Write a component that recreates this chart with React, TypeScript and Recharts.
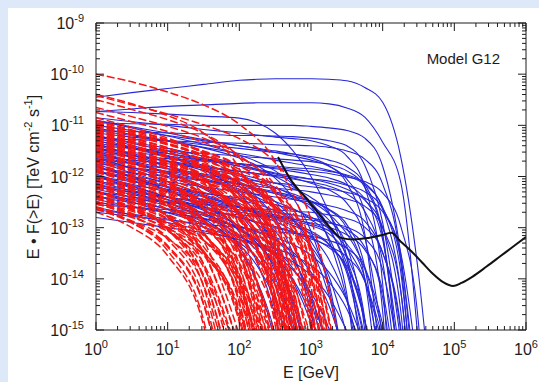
import { Line, LineChart, XAxis, YAxis } from 'recharts'

// every number below is a log10: E in GeV, E*F(>E) in TeV cm^-2 s^-1

// red dashed curves, sampled on RED_E
const RED_E = [0, 0.5, 1, 1.5, 2, 2.5, 3, 3.5]

const redUpper = [
  [-10.0, -10.15, -10.35, -10.6, -10.98, -11.7, -13.4, -17.5],
  [-10.39, -10.58, -10.81, -11.15, -11.85, -13.68, -19.18],
  [-10.42, -10.6, -10.78, -10.99, -11.26, -11.73, -12.84, -16.02],
  [-10.5, -10.69, -10.89, -11.16, -11.63, -12.75, -15.9],
  [-10.65, -10.83, -11.02, -11.25, -11.59, -12.3, -14.15, -19.55],
  [-10.75, -10.93, -11.12, -11.33, -11.62, -12.17, -13.53, -17.45],
  [-10.85, -11.04, -11.25, -11.55, -12.1, -13.45, -17.35],
]

const redDense = [
  [-10.9, -11.09, -11.28, -11.53, -11.94, -12.87, -15.4],
  [-10.95, -11.13, -11.31, -11.52, -11.79, -12.26, -13.37, -16.55],
  [-11.0, -11.18, -11.37, -11.6, -11.94, -12.65, -14.5, -19.9],
  [-11.05, -11.24, -11.44, -11.71, -12.18, -13.3, -16.45],
  [-11.1, -11.28, -11.47, -11.68, -11.97, -12.52, -13.88, -17.8],
  [-11.15, -11.34, -11.53, -11.78, -12.19, -13.12, -15.65],
  [-11.2, -11.39, -11.6, -11.9, -12.45, -13.8, -17.7],
  [-11.25, -11.43, -11.62, -11.85, -12.19, -12.9, -14.75, -20.15],
  [-11.3, -11.49, -11.69, -11.96, -12.43, -13.55, -16.7],
  [-11.36, -11.55, -11.78, -12.12, -12.82, -14.65, -20.15],
  [-11.4, -11.59, -11.78, -12.03, -12.44, -13.37, -15.9],
  [-11.45, -11.64, -11.85, -12.15, -12.7, -14.05, -17.95],
  [-11.51, -11.71, -11.96, -12.37, -13.29, -15.8],
  [-11.55, -11.74, -11.94, -12.21, -12.68, -13.8, -16.95],
  [-11.61, -11.8, -12.03, -12.37, -13.07, -14.9, -20.4],
  [-11.66, -11.87, -12.14, -12.61, -13.72, -16.85],
  [-11.7, -11.89, -12.1, -12.4, -12.95, -14.3, -18.2],
  [-11.76, -11.96, -12.21, -12.62, -13.54, -16.05],
  [-11.82, -12.03, -12.32, -12.87, -14.23, -18.1],
  [-11.86, -12.05, -12.28, -12.62, -13.32, -15.15],
  [-11.91, -12.12, -12.39, -12.86, -13.97, -17.1],
  [-11.97, -12.2, -12.54, -13.25, -15.09],
  [-12.01, -12.21, -12.46, -12.87, -13.79, -16.3],
  [-12.07, -12.28, -12.57, -13.12, -14.48, -18.35],
  [-12.13, -12.38, -12.79, -13.72, -16.24],
  [-12.16, -12.37, -12.64, -13.11, -14.22, -17.35],
  [-12.22, -12.45, -12.79, -13.5, -15.34],
  [-12.29, -12.56, -13.03, -14.15, -17.29],
  [-12.32, -12.53, -12.82, -13.37, -14.73, -18.6],
  [-12.38, -12.63, -13.04, -13.97, -16.49],
  [-12.42, -12.65, -12.99, -13.7, -15.54],
  [-12.49, -12.76, -13.23, -14.35, -17.49],
  [-12.53, -12.78, -13.19, -14.12, -16.64],
  [-12.6, -12.9, -13.45, -14.8, -18.75],
  [-12.64, -12.91, -13.38, -14.5, -17.64],
  [-12.7, -13.0, -13.55, -14.9, -18.85],
]

const redFill = [
  [-10.92, -11.1, -11.29, -11.5, -11.79, -12.34, -13.7, -17.62],
  [-10.97, -11.16, -11.36, -11.63, -12.1, -13.22, -16.37],
  [-11.02, -11.2, -11.38, -11.59, -11.86, -12.33, -13.44, -16.62],
  [-11.07, -11.25, -11.44, -11.67, -12.01, -12.72, -14.57, -19.97],
  [-11.12, -11.31, -11.52, -11.82, -12.37, -13.72, -17.62],
  [-11.17, -11.35, -11.54, -11.75, -12.04, -12.59, -13.95, -17.87],
  [-11.22, -11.41, -11.6, -11.85, -12.26, -13.19, -15.72],
  [-11.27, -11.45, -11.63, -11.84, -12.11, -12.58, -13.69, -16.87],
  [-11.33, -11.52, -11.75, -12.09, -12.79, -14.62, -20.12],
  [-11.37, -11.55, -11.74, -11.97, -12.31, -13.02, -14.87, -20.27],
  [-11.42, -11.61, -11.81, -12.08, -12.55, -13.67, -16.82],
  [-11.47, -11.65, -11.84, -12.05, -12.34, -12.89, -14.25, -18.17],
  [-11.52, -11.71, -11.92, -12.22, -12.77, -14.12, -18.02],
  [-11.57, -11.76, -11.95, -12.2, -12.61, -13.54, -16.07],
  [-11.62, -11.8, -11.99, -12.22, -12.56, -13.27, -15.12],
  [-11.68, -11.88, -12.13, -12.54, -13.46, -15.97],
  [-11.72, -11.91, -12.11, -12.38, -12.85, -13.97, -17.12],
  [-11.78, -11.97, -12.2, -12.54, -13.24, -15.07],
  [-11.82, -12.01, -12.2, -12.45, -12.86, -13.79, -16.32],
  [-11.88, -12.09, -12.36, -12.83, -13.94, -17.07],
  [-11.92, -12.11, -12.32, -12.62, -13.17, -14.52, -18.42],
  [-11.98, -12.17, -12.4, -12.74, -13.44, -15.27],
  [-12.04, -12.25, -12.54, -13.09, -14.45, -18.32],
  [-12.07, -12.26, -12.46, -12.73, -13.2, -14.32, -17.47],
  [-12.13, -12.33, -12.58, -12.99, -13.91, -16.42],
  [-12.19, -12.42, -12.76, -13.47, -15.31],
  [-12.23, -12.42, -12.65, -12.99, -13.69, -15.52],
  [-12.28, -12.49, -12.76, -13.23, -14.34, -17.47],
  [-12.35, -12.6, -13.01, -13.94, -16.46],
  [-12.38, -12.58, -12.83, -13.24, -14.16, -16.67],
  [-12.44, -12.65, -12.94, -13.49, -14.85, -18.72],
  [-12.49, -12.72, -13.06, -13.77, -15.61],
  [-12.53, -12.74, -13.01, -13.48, -14.59, -17.72],
  [-12.61, -12.88, -13.35, -14.47, -17.61],
  [-12.64, -12.87, -13.21, -13.92, -15.76],
]

const redExtra = [
  [-11.19, -11.39, -11.64, -12.05, -12.97, -15.48],
  [-11.29, -11.48, -11.71, -12.05, -12.75, -14.58, -20.08],
  [-11.39, -11.6, -11.87, -12.34, -13.45, -16.58],
  [-11.48, -11.66, -11.85, -12.08, -12.42, -13.13, -14.98, -20.38],
  [-11.6, -11.81, -12.1, -12.65, -14.01, -17.88],
  [-11.68, -11.87, -12.06, -12.31, -12.72, -13.65, -16.18],
  [-11.78, -11.97, -12.18, -12.48, -13.03, -14.38, -18.28],
  [-11.88, -12.07, -12.27, -12.54, -13.01, -14.13, -17.28],
  [-11.99, -12.2, -12.47, -12.94, -14.05, -17.18],
  [-12.09, -12.28, -12.51, -12.85, -13.55, -15.38],
  [-12.18, -12.37, -12.58, -12.88, -13.43, -14.78, -18.68],
  [-12.29, -12.49, -12.74, -13.15, -14.07, -16.58],
  [-12.4, -12.61, -12.9, -13.45, -14.81, -18.68],
  [-12.49, -12.68, -12.91, -13.25, -13.95, -15.78],
  [-12.59, -12.8, -13.07, -13.54, -14.65, -17.78],
  [-11.09, -11.28, -11.51, -11.85, -12.55, -14.38, -19.88],
  [-10.98, -11.16, -11.35, -11.58, -11.92, -12.63, -14.48, -19.88],
  [-11.13, -11.32, -11.52, -11.79, -12.26, -13.38, -16.53],
  [-11.23, -11.41, -11.6, -11.81, -12.1, -12.65, -14.01, -17.93],
  [-11.33, -11.52, -11.71, -11.96, -12.37, -13.3, -15.83],
]

// blue solid curves, sampled on BLUE_E
const BLUE_E = [0, 0.5, 1, 1.5, 2, 2.25, 2.5, 2.75, 3, 3.25, 3.5, 3.75, 4, 4.25, 4.5, 4.75]

const blueHigh = [
  [-10.45, -10.36, -10.28, -10.2, -10.12, -10.1, -10.09, -10.09, -10.09, -10.1, -10.13, -10.26, -10.55, -11.6, -13.9, -17.5],
  [-10.73, -10.68, -10.63, -10.6, -10.57, -10.56, -10.56, -10.56, -10.56, -10.58, -10.66, -10.84, -11.33, -12.1, -15.3],
  [-10.73, -10.75, -10.78, -10.82, -10.86, -10.95, -11.15, -11.5, -12.0, -12.7, -13.6, -14.8, -16.5],
  [-10.95, -10.97, -10.98, -11.0, -11.0, -11.0, -11.0, -11.0, -11.02, -11.05, -11.1, -11.25, -11.8, -13.5, -17],
  [-11.1, -11.12, -11.15, -11.17, -11.2, -11.2, -11.21, -11.22, -11.25, -11.3, -11.4, -11.78, -12.9, -15.2],
  [-11.25, -11.28, -11.3, -11.33, -11.35, -11.36, -11.38, -11.39, -11.4, -11.43, -11.5, -11.66, -12.15, -13.65, -18],
  [-11.4, -11.45, -11.5, -11.55, -11.6, -11.63, -11.65, -11.68, -11.71, -11.77, -11.89, -12.21, -13.17, -16.2],
  [-10.85, -10.93, -11.0, -11.08, -11.15, -11.19, -11.23, -11.26, -11.3, -11.4, -11.6, -12.2, -14.1, -20],
  [-11.0, -11.1, -11.2, -11.3, -11.4, -11.45, -11.5, -11.56, -11.64, -11.79, -12.13, -13.12, -16.1],
  [-10.9, -11.03, -11.15, -11.28, -11.4, -11.46, -11.53, -11.6, -11.68, -11.8, -12.05, -12.7, -14.64, -20],
  [-11.15, -11.23, -11.3, -11.38, -11.45, -11.49, -11.53, -11.56, -11.61, -11.68, -11.81, -12.15, -13.12, -16.1],
  [-11.05, -11.18, -11.3, -11.43, -11.55, -11.61, -11.68, -11.74, -11.8, -11.88, -11.99, -12.16, -12.6, -13.84, -17.64],
  [-11.45, -11.53, -11.6, -11.68, -11.75, -11.79, -11.83, -11.86, -11.9, -11.94, -12.01, -12.1, -12.32, -12.96, -14.87, -20.82],
]

const blueMid = [
  [-11.3, -11.43, -11.55, -11.68, -11.8, -11.86, -11.93, -11.99, -12.05, -12.13, -12.25, -12.46, -13.0, -14.6, -19],
  [-11.5, -11.6, -11.7, -11.8, -11.9, -11.95, -12.0, -12.05, -12.11, -12.19, -12.34, -12.68, -13.67, -16.7],
  [-11.2, -11.35, -11.5, -11.65, -11.8, -11.88, -11.95, -12.03, -12.13, -12.26, -12.52, -13.19, -15.14],
  [-11.6, -11.68, -11.75, -11.83, -11.9, -11.94, -11.98, -12.01, -12.05, -12.09, -12.17, -12.3, -12.63, -13.61, -16.6],
  [-11.7, -11.83, -11.95, -12.08, -12.2, -12.26, -12.33, -12.4, -12.49, -12.65, -13.01, -14.0, -17],
  [-11.45, -11.63, -11.8, -11.98, -12.15, -12.24, -12.33, -12.44, -12.57, -12.85, -13.36, -15.0, -19],
  [-11.9, -12.0, -12.1, -12.2, -12.3, -12.35, -12.4, -12.45, -12.5, -12.57, -12.67, -12.87, -13.49, -14.93, -19.7],
  [-12.0, -12.15, -12.3, -12.45, -12.6, -12.68, -12.75, -12.83, -12.93, -13.06, -13.32, -13.99, -15.94],
  [-11.35, -11.58, -11.8, -12.03, -12.25, -12.36, -12.49, -12.63, -12.84, -13.2, -14.3, -17.4],
  [-12.2, -12.3, -12.4, -12.5, -12.6, -12.65, -12.7, -12.75, -12.81, -12.89, -13.04, -13.38, -14.37, -17.4],
  [-11.8, -12.0, -12.2, -12.4, -12.6, -12.7, -12.8, -12.92, -13.07, -13.32, -13.89, -15.5],
  [-12.4, -12.45, -12.5, -12.55, -12.6, -12.63, -12.65, -12.68, -12.7, -12.75, -12.82, -12.99, -13.49, -15.0, -19],
  [-12.1, -12.28, -12.45, -12.63, -12.8, -12.89, -12.98, -13.08, -13.19, -13.39, -13.76, -14.8, -17.8],
  [-11.55, -11.6, -11.65, -11.7, -11.75, -11.78, -11.8, -11.83, -11.85, -11.9, -11.97, -12.13, -12.64, -14.2, -18],
  [-11.75, -11.83, -11.9, -11.98, -12.05, -12.09, -12.13, -12.16, -12.2, -12.24, -12.31, -12.42, -12.69, -13.48, -15.9],
  [-12.1, -12.18, -12.25, -12.33, -12.42, -12.48, -12.55, -12.65, -12.79, -13.02, -13.4, -14.03, -15.14],
  [-11.65, -11.75, -11.85, -11.95, -12.07, -12.14, -12.23, -12.34, -12.49, -12.73, -13.12, -13.77, -14.89, -16.84],
  [-11.35, -11.45, -11.55, -11.65, -11.75, -11.8, -11.85, -11.9, -11.96, -12.03, -12.16, -12.44, -13.24, -15.64],
  [-11.55, -11.7, -11.85, -12.0, -12.15, -12.23, -12.3, -12.38, -12.48, -12.64, -12.94, -13.77, -16.19],
  [-11.85, -11.93, -12.0, -12.08, -12.15, -12.19, -12.23, -12.26, -12.3, -12.36, -12.44, -12.58, -13.0, -14.22, -17.99],
  [-12.3, -12.4, -12.5, -12.6, -12.7, -12.75, -12.8, -12.87, -12.96, -13.12, -13.55, -14.78, -18.56],
  [-11.25, -11.43, -11.6, -11.78, -11.95, -12.04, -12.13, -12.24, -12.41, -12.73, -13.57, -16.0],
  [-12.55, -12.6, -12.65, -12.7, -12.75, -12.78, -12.8, -12.83, -12.85, -12.91, -12.99, -13.2, -13.82, -15.72],
  [-12.0, -12.2, -12.4, -12.6, -12.8, -12.9, -13.0, -13.1, -13.22, -13.36, -13.57, -14.05, -15.33],
  [-12.15, -12.28, -12.4, -12.53, -12.65, -12.71, -12.78, -12.84, -12.91, -12.99, -13.14, -13.43, -14.24, -16.65],
  [-11.7, -11.93, -12.15, -12.38, -12.6, -12.71, -12.83, -12.96, -13.11, -13.33, -13.83, -15.12],
  [-12.7, -12.78, -12.85, -12.93, -13.0, -13.04, -13.08, -13.11, -13.17, -13.25, -13.4, -13.81, -15.03],
]

const blueLow = [
  [-11.6, -11.85, -12.1, -12.35, -12.6, -12.73, -12.88, -13.06, -13.37, -14.09, -16.1],
  [-11.1, -11.2, -11.31, -11.44, -11.64, -11.79, -12.03, -12.42, -13.07, -14.19, -16.14],
  [-11.3, -11.45, -11.62, -11.83, -12.14, -12.41, -12.82, -13.5, -14.64, -16.6],
  [-11.6, -11.75, -11.91, -12.07, -12.28, -12.41, -12.59, -12.86, -13.27, -13.95, -15.09],
  [-11.9, -12.08, -12.26, -12.47, -12.74, -12.93, -13.21, -13.63, -14.32, -15.48],
  [-12.2, -12.35, -12.52, -12.73, -13.04, -13.31, -13.72, -14.4, -15.54],
  [-11.5, -11.71, -11.94, -12.24, -12.73, -13.17, -13.87, -15.04, -17],
  [-12.5, -12.6, -12.71, -12.82, -12.98, -13.09, -13.24, -13.48, -13.87, -14.52, -15.64],
  [-11.2, -11.39, -11.59, -11.86, -12.33, -12.76, -13.45, -14.6, -16.59],
  [-12.0, -12.23, -12.46, -12.72, -13.04, -13.26, -13.56, -14.01, -14.72, -15.9],
  [-12.6, -12.75, -12.9, -13.06, -13.24, -13.35, -13.49, -13.67, -13.93, -14.35, -15.02],
  [-11.75, -12.0, -12.27, -12.58, -12.99, -13.31, -13.77, -14.5, -15.69],
  [-12.3, -12.5, -12.71, -12.92, -13.18, -13.34, -13.54, -13.83, -14.27, -14.97, -16.14],
  [-11.45, -11.58, -11.7, -11.84, -11.99, -12.09, -12.21, -12.38, -12.63, -13.03, -13.7, -14.83, -16.79],
  [-10.9, -11.05, -11.21, -11.37, -11.58, -11.71, -11.89, -12.16, -12.57, -13.25, -14.39, -16.37],
  [-11.81, -12.02, -12.28, -12.64, -13.37, -14.07, -15.24, -17.24],
  [-12.3, -12.46, -12.64, -12.89, -13.33, -13.75, -14.42, -15.57],
  [-11.4, -11.55, -11.71, -11.88, -12.11, -12.27, -12.49, -12.84, -13.39, -14.32, -15.89],
  [-12.0, -12.1, -12.2, -12.32, -12.46, -12.55, -12.67, -12.86, -13.15, -13.62, -14.43, -15.82],
  [-11.65, -11.83, -12.02, -12.23, -12.52, -12.75, -13.07, -13.58, -14.43, -15.86],
  [-12.45, -12.58, -12.7, -12.83, -12.98, -13.07, -13.19, -13.33, -13.54, -13.87, -14.42, -15.33],
  [-11.95, -12.18, -12.41, -12.66, -12.96, -13.15, -13.42, -13.8, -14.39, -15.35],
  [-11.2, -11.33, -11.45, -11.6, -11.76, -11.86, -12.0, -12.2, -12.5, -12.98, -13.81, -15.21],
  [-12.25, -12.4, -12.57, -12.76, -13.02, -13.24, -13.55, -14.05, -14.88, -16.3],
  [-12.8, -12.9, -13.0, -13.1, -13.23, -13.31, -13.41, -13.54, -13.74, -14.06, -14.59, -15.49],
  [-11.91, -12.05, -12.22, -12.49, -13.09, -13.68, -14.71, -16.46],
  [-12.4, -12.51, -12.63, -12.81, -13.14, -13.46, -13.99, -14.89, -16.44],
  [-11.55, -11.74, -11.93, -12.19, -12.59, -12.95, -13.52, -14.45, -16.04],
  [-12.16, -12.32, -12.52, -12.82, -13.44, -14.05, -15.08, -16.85],
  [-12.65, -12.74, -12.83, -12.99, -13.29, -13.6, -14.12, -15.0, -16.54],
]

// black sensitivity curve
const sensE = [2.54, 2.72, 2.95, 3.15, 3.3, 3.42, 3.6, 3.8, 3.98, 4.12, 4.25, 4.4, 4.55, 4.7, 4.85, 4.98, 5.1, 5.25, 5.45, 5.65, 5.85, 6.0]
const sensF = [-11.62, -12.07, -12.45, -12.8, -13.05, -13.2, -13.23, -13.2, -13.15, -13.1, -13.27, -13.46, -13.68, -13.9, -14.07, -14.14, -14.08, -13.96, -13.76, -13.55, -13.34, -13.18]

const X_MAJOR = [0, 1, 2, 3, 4, 5, 6]
const Y_MAJOR = [-15, -14, -13, -12, -11, -10, -9]

const INK = '#1d1d1d'
const BLUE = '#2727d8'
const RED = '#f51616'
const FONT = '"Liberation Sans", Arial, Helvetica, sans-serif'

const SUBS = [2, 3, 4, 5, 6, 7, 8, 9].map((k) => Math.log10(k))
const withMinor = (majors: number[]) =>
  [...majors, ...majors.slice(0, -1).flatMap((d) => SUBS.map((s) => d + s))].sort((a, b) => a - b)
const xTicks = withMinor(X_MAJOR)
const yTicks = withMinor(Y_MAJOR)
const isMajor = (v: number) => Math.abs(v - Math.round(v)) < 1e-6

const toRows = (grid: number[], vals: number[]) => vals.map((v, i) => ({ x: grid[i], y: v }))
const sensRows = sensE.map((x, i) => ({ x, y: sensF[i] }))

function Pow({ x, y, exp, anchor }: { x: number; y: number; exp: number; anchor: 'middle' | 'end' }) {
  return (
    <text x={x} y={y} textAnchor={anchor} fill={INK} fontSize={16} fontFamily={FONT}>
      10
      <tspan dy={-7} fontSize={11}>
        {exp}
      </tspan>
    </text>
  )
}

function BottomTick(props: any) {
  const { x, y, payload } = props
  const major = isMajor(payload.value)
  return (
    <g>
      <line x1={x} x2={x} y1={y} y2={y - (major ? 8 : 4)} stroke={INK} />
      {major && <Pow x={x} y={y + 25} exp={Math.round(payload.value)} anchor="middle" />}
    </g>
  )
}

function TopTick(props: any) {
  const { x, y, payload } = props
  const major = isMajor(payload.value)
  return <line x1={x} x2={x} y1={y} y2={y + (major ? 8 : 4)} stroke={INK} />
}

function LeftTick(props: any) {
  const { x, y, payload } = props
  const major = isMajor(payload.value)
  return (
    <g>
      <line x1={x} x2={x + (major ? 8 : 4)} y1={y} y2={y} stroke={INK} />
      {major && <Pow x={x - 12} y={y + 6} exp={Math.round(payload.value)} anchor="end" />}
    </g>
  )
}

function RightTick(props: any) {
  const { x, y, payload } = props
  const major = isMajor(payload.value)
  return <line x1={x} x2={x - (major ? 8 : 4)} y1={y} y2={y} stroke={INK} />
}

const axisCommon = {
  type: 'number' as const,
  allowDataOverflow: true,
  interval: 0 as const,
  tickSize: 0,
  tickMargin: 0,
  tickLine: false,
  axisLine: { stroke: INK },
}

export default function App() {
  const blues = [...blueLow, ...blueMid, ...blueHigh]
  const reds = [...redDense, ...redFill, ...redExtra, ...redUpper]
  return (
    <div style={{ position: 'absolute', left: 0, top: 0, width: 539, height: 382, background: '#dde9f9' }}>
      <div style={{ position: 'absolute', left: 8, top: 8, width: 531, height: 374, background: '#fff' }} />
      <div style={{ position: 'absolute', left: 0, top: 0 }}>
        <LineChart width={539} height={382} margin={{ top: 23, right: 13, bottom: 22, left: 36 }}>
          <XAxis {...axisCommon} dataKey="x" domain={[0, 6]} ticks={xTicks} tick={BottomTick} height={30} />
          <XAxis {...axisCommon} xAxisId="top" orientation="top" mirror dataKey="x" domain={[0, 6]} ticks={xTicks} tick={TopTick} />
          <YAxis {...axisCommon} domain={[-15, -9]} ticks={yTicks} tick={LeftTick} width={60} />
          <YAxis {...axisCommon} yAxisId="right" orientation="right" mirror domain={[-15, -9]} ticks={yTicks} tick={RightTick} />
          {blues.map((vals, i) => (
            <Line
              key={'b' + i}
              data={toRows(BLUE_E, vals)}
              dataKey="y"
              type="monotone"
              stroke={BLUE}
              strokeWidth={1.1}
              dot={false}
              activeDot={false}
              isAnimationActive={false}
            />
          ))}
          {reds.map((vals, i) => (
            <Line
              key={'r' + i}
              data={toRows(RED_E, vals)}
              dataKey="y"
              type="monotone"
              stroke={RED}
              strokeWidth={1.5}
              strokeDasharray="8 3"
              dot={false}
              activeDot={false}
              isAnimationActive={false}
            />
          ))}
          <Line
            data={sensRows}
            dataKey="y"
            type="monotone"
            stroke="#111"
            strokeWidth={2}
            dot={false}
            activeDot={false}
            isAnimationActive={false}
          />
        </LineChart>
      </div>
      <svg width={539} height={382} style={{ position: 'absolute', left: 0, top: 0, pointerEvents: 'none' }}>
        <text x={500} y={64} textAnchor="end" fontSize={15} fill={INK} fontFamily={FONT}>
          Model G12
        </text>
        <text x={311} y={378} textAnchor="middle" fontSize={16} fill={INK} fontFamily={FONT}>
          E [GeV]
        </text>
        <text transform="translate(39,177) rotate(-90)" textAnchor="middle" fontSize={16} fill={INK} fontFamily={FONT}>
          E • F(&gt;E) [TeV cm
          <tspan dy={-7} fontSize={11}>
            -2
          </tspan>
          <tspan dy={7}> s</tspan>
          <tspan dy={-7} fontSize={11}>
            -1
          </tspan>
          <tspan dy={7}>]</tspan>
        </text>
      </svg>
    </div>
  )
}
